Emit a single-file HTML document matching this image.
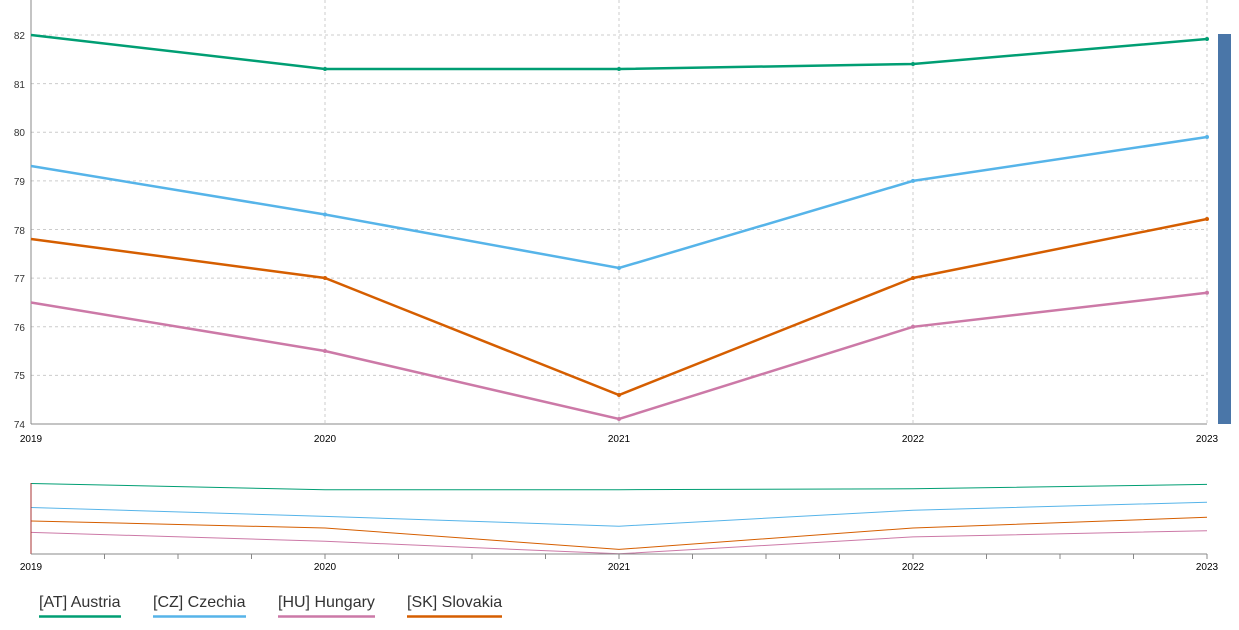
<!DOCTYPE html>
<html><head><meta charset="utf-8"><style>
body{margin:0;background:#fff;width:1239px;height:625px;overflow:hidden;font-family:"Liberation Sans",sans-serif}
</style></head><body>
<svg width="1239" height="625" xmlns="http://www.w3.org/2000/svg" font-family="Liberation Sans, sans-serif">
<g stroke="#ccc" stroke-dasharray="3,3" stroke-width="1">
<line x1="31" x2="1207" y1="35" y2="35"/><line x1="31" x2="1207" y1="83.6" y2="83.6"/><line x1="31" x2="1207" y1="132.3" y2="132.3"/><line x1="31" x2="1207" y1="180.9" y2="180.9"/><line x1="31" x2="1207" y1="229.5" y2="229.5"/><line x1="31" x2="1207" y1="278.1" y2="278.1"/><line x1="31" x2="1207" y1="326.8" y2="326.8"/><line x1="31" x2="1207" y1="375.4" y2="375.4"/>
<line x1="325" x2="325" y1="0" y2="424"/><line x1="619" x2="619" y1="0" y2="424"/><line x1="913" x2="913" y1="0" y2="424"/><line x1="1207" x2="1207" y1="0" y2="424"/>
</g>
<line x1="31" x2="31" y1="0" y2="424" stroke="#888"/>
<line x1="31" x2="1207" y1="424" y2="424" stroke="#888"/>
<g font-size="10" fill="#333" text-anchor="end">
<text x="25" y="39">82</text><text x="25" y="88">81</text><text x="25" y="136">80</text><text x="25" y="185">79</text><text x="25" y="234">78</text><text x="25" y="282">77</text><text x="25" y="331">76</text><text x="25" y="379">75</text><text x="25" y="428">74</text>
</g>
<g font-size="10" fill="#000" text-anchor="middle">
<text x="31" y="442">2019</text><text x="325" y="442">2020</text><text x="619" y="442">2021</text><text x="913" y="442">2022</text><text x="1207" y="442">2023</text>
<text x="31" y="570">2019</text><text x="325" y="570">2020</text><text x="619" y="570">2021</text><text x="913" y="570">2022</text><text x="1207" y="570">2023</text>
</g>
<rect x="1218" y="34" width="13" height="390" fill="#4a76a8"/>
<g fill="none" stroke-width="2.5">
<polyline stroke="#009E73" points="31,35 325,69 619,69 913,64 1207,39"/>
<polyline stroke="#56B4E9" points="31,166 325,214.5 619,268 913,180.9 1207,137"/>
<polyline stroke="#D55E00" points="31,239 325,278 619,395 913,278 1207,219"/>
<polyline stroke="#CC79A7" points="31,302.5 325,351 619,419 913,326.8 1207,292.8"/>
</g>
<g stroke-width="2">
<g fill="#009E73"><circle cx="325" cy="69" r="2"/><circle cx="619" cy="69" r="2"/><circle cx="913" cy="64" r="2"/><circle cx="1207" cy="39" r="2"/></g>
<g fill="#56B4E9"><circle cx="325" cy="214.5" r="2"/><circle cx="619" cy="268" r="2"/><circle cx="913" cy="180.9" r="2"/><circle cx="1207" cy="137" r="2"/></g>
<g fill="#D55E00"><circle cx="325" cy="278" r="2"/><circle cx="619" cy="395" r="2"/><circle cx="913" cy="278" r="2"/><circle cx="1207" cy="219" r="2"/></g>
<g fill="#CC79A7"><circle cx="325" cy="351" r="2"/><circle cx="619" cy="419" r="2"/><circle cx="913" cy="326.8" r="2"/><circle cx="1207" cy="292.8" r="2"/></g>
</g>
<!-- navigator -->
<g fill="none" stroke-width="1">
<polyline stroke="#009E73" points="31,483.5 325,489.7 619,489.7 913,488.8 1207,484.4"/>
<polyline stroke="#56B4E9" points="31,507.5 325,516.4 619,526.2 913,510.2 1207,502.2"/>
<polyline stroke="#D55E00" points="31,521 325,528 619,549.4 913,528 1207,517.3"/>
<polyline stroke="#CC79A7" points="31,532.4 325,541.3 619,553.8 913,536.9 1207,530.7"/>
</g>
<line x1="31" x2="31" y1="483" y2="554" stroke="#a33" />
<line x1="31" x2="1207" y1="554" y2="554" stroke="#888"/>
<g stroke="#888">
<line x1="104.5" x2="104.5" y1="554" y2="559"/><line x1="178" x2="178" y1="554" y2="559"/><line x1="251.5" x2="251.5" y1="554" y2="559"/><line x1="325" x2="325" y1="554" y2="559"/>
<line x1="398.5" x2="398.5" y1="554" y2="559"/><line x1="472" x2="472" y1="554" y2="559"/><line x1="545.5" x2="545.5" y1="554" y2="559"/><line x1="619" x2="619" y1="554" y2="559"/>
<line x1="692.5" x2="692.5" y1="554" y2="559"/><line x1="766" x2="766" y1="554" y2="559"/><line x1="839.5" x2="839.5" y1="554" y2="559"/><line x1="913" x2="913" y1="554" y2="559"/>
<line x1="986.5" x2="986.5" y1="554" y2="559"/><line x1="1060" x2="1060" y1="554" y2="559"/><line x1="1133.5" x2="1133.5" y1="554" y2="559"/><line x1="1207" x2="1207" y1="554" y2="559"/>
</g>
<g font-size="16" fill="#333">
<text x="39" y="607">[AT] Austria</text><text x="153" y="607">[CZ] Czechia</text><text x="278" y="607">[HU] Hungary</text><text x="407" y="607">[SK] Slovakia</text>
</g>
<g stroke-width="2.5">
<line x1="39" x2="121" y1="616.5" y2="616.5" stroke="#009E73"/>
<line x1="153" x2="246" y1="616.5" y2="616.5" stroke="#56B4E9"/>
<line x1="278" x2="375" y1="616.5" y2="616.5" stroke="#CC79A7"/>
<line x1="407" x2="502" y1="616.5" y2="616.5" stroke="#D55E00"/>
</g>
</svg>
</body></html>
